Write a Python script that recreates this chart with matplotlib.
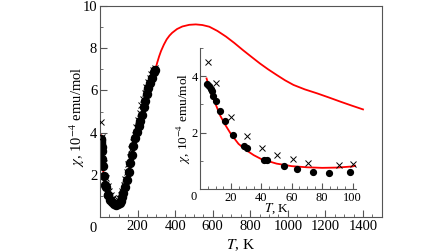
import matplotlib
matplotlib.use('Agg')
import matplotlib.pyplot as plt
import numpy as np
from matplotlib.ticker import MultipleLocator

# red curve (fit), chi in 1e-4 emu/mol
fit_T = [4, 6, 8, 10, 13, 16, 20, 25, 30, 35, 40, 50, 60, 70, 80, 90, 100,
         110, 120, 130, 140, 150, 160, 175, 190, 205, 220, 240, 260, 280, 294,
         305, 315, 325, 340, 355, 370, 384, 410, 438, 475, 510, 545, 582, 625,
         671, 715, 761, 805, 851, 895, 941, 985, 1030, 1090, 1156, 1220, 1282,
         1340, 1400]
fit_chi = [3.92, 3.55, 3.25, 3.0, 2.6, 2.3, 1.95, 1.6, 1.38, 1.2, 1.06, 0.9,
           0.81, 0.77, 0.75, 0.76, 0.8, 0.95, 1.15, 1.4, 1.7, 2.05, 2.45, 3.0,
           3.55, 4.05, 4.6, 5.35, 6.0, 6.6, 6.97, 7.33, 7.62, 7.87, 8.17, 8.42,
           8.6, 8.73, 8.91, 9.03, 9.11, 9.13, 9.1, 9.02, 8.82, 8.55, 8.25, 7.91,
           7.6, 7.28, 7.0, 6.73, 6.48, 6.26, 6.05, 5.86, 5.66, 5.46, 5.28, 5.1]

# low temperature data (also in the inset)
dot_T_low = [4.5, 5.8, 6.7, 7.3, 8.4, 9.9, 12.8, 16.1, 21.5, 28.7, 30.3,
             41.9, 44.0, 54.8, 63.7, 74.0, 84.3, 98.0]
dot_chi_low = [3.71, 3.65, 3.56, 3.48, 3.30, 3.12, 2.76, 2.40, 1.93, 1.51,
               1.44, 1.04, 1.02, 0.82, 0.70, 0.62, 0.58, 0.61]
cross_T_low = [5.1, 10.2, 20.0, 30.3, 40.5, 50.6, 60.9, 70.7, 91.0, 100.2]
cross_chi_low = [4.52, 3.77, 2.55, 1.87, 1.45, 1.21, 1.06, 0.92, 0.86, 0.89]

# high temperature data (main plot only)
dot_T_high = [105, 112, 118, 124, 133, 142, 152, 160, 169, 178, 187, 196, 205,
              214, 222, 232, 241, 250, 258, 267, 276, 285, 294]
dot_chi_high = [0.68, 0.78, 0.95, 1.15, 1.4, 1.75, 2.15, 2.55, 2.95, 3.35,
                3.75, 4.05, 4.3, 4.55, 4.83, 5.2, 5.5, 5.85, 6.1, 6.35, 6.6,
                6.85, 6.97]
cross_T_high = [110, 118, 126, 134, 142, 150, 158, 166, 175, 184, 193, 202,
                211, 220, 229, 238, 247, 256, 265, 274, 283, 292]
cross_chi_high = [1.05, 1.25, 1.5, 1.8, 2.15, 2.5, 2.85, 3.2, 3.55, 3.9, 4.25,
                  4.6, 4.95, 5.3, 5.6, 5.9, 6.15, 6.4, 6.6, 6.8, 6.95, 7.05]

plt.rcParams['font.family'] = ['Liberation Serif', 'DejaVu Serif']
plt.rcParams['mathtext.fontset'] = 'stix'

fig = plt.figure(figsize=(4.48, 2.52), dpi=100)
ax = fig.add_axes([0.2232, 0.139, 0.629, 0.837])

ax.plot(fit_T, fit_chi, color='red', lw=1.3, zorder=1)
ax.plot(dot_T_low + dot_T_high, dot_chi_low + dot_chi_high, 'o', color='black',
        ms=5.8, zorder=2)
ax.plot(cross_T_low + cross_T_high, cross_chi_low + cross_chi_high, 'x',
        color='black', ms=5, mew=0.7, zorder=3)

ax.set_xlim(0, 1500)
ax.set_ylim(0, 10)
ax.set_xticks([200, 400, 600, 800, 1000, 1200, 1400])
ax.set_yticks([2, 4, 6, 8, 10])
ax.xaxis.set_minor_locator(MultipleLocator(50))
ax.yaxis.set_minor_locator(MultipleLocator(1))
ax.tick_params(which='both', direction='in', labelsize=10.5, color='#555555',
               pad=2)
ax.tick_params(which='major', length=5)
ax.tick_params(which='minor', length=2.5)
for s in ax.spines.values():
    s.set_color('#555555')
ax.text(-0.025, -0.055, '0', transform=ax.transAxes, ha='center', va='center',
        fontsize=10.5)
ax.set_xlabel(r'$T$, K', fontsize=11, labelpad=3)
ax.set_ylabel(r'$\chi$, 10$^{-4}$ emu/mol', fontsize=10.5)
ax.yaxis.set_label_coords(-0.046, 0.474)

# inset
ins = fig.add_axes([0.4475, 0.25, 0.3464, 0.5595])
ins.patch.set_alpha(0)
ins.plot(fit_T, fit_chi, color='red', lw=1.3, zorder=1)
ins.plot(dot_T_low, dot_chi_low, 'o', color='black', ms=4.2, zorder=2)
ins.plot(cross_T_low, cross_chi_low, 'x', color='black', ms=5, mew=0.7,
         zorder=3)
ins.set_xlim(0, 102)
ins.set_ylim(0, 5)
ins.set_xticks([20, 40, 60, 80, 100])
ins.set_yticks([2, 4])
ins.xaxis.set_minor_locator(MultipleLocator(5))
ins.yaxis.set_minor_locator(MultipleLocator(1))
ins.spines['top'].set_visible(False)
ins.spines['right'].set_visible(False)
for s in ['left', 'bottom']:
    ins.spines[s].set_color('#555555')
ins.tick_params(which='both', direction='in', labelsize=9, color='#555555',
                pad=2)
ins.tick_params(which='major', length=4)
ins.tick_params(which='minor', length=2)
ins.text(-0.045, -0.06, '0', transform=ins.transAxes, ha='center',
         va='center', fontsize=9)
ins.set_xlabel(r'$T$, K', fontsize=9.5)
ins.xaxis.set_label_coords(0.49, -0.085)
ins.set_ylabel(r'$\chi$, 10$^{-4}$ emu/mol', fontsize=9.5, labelpad=-1)

fig.savefig('out.png', dpi=100)
